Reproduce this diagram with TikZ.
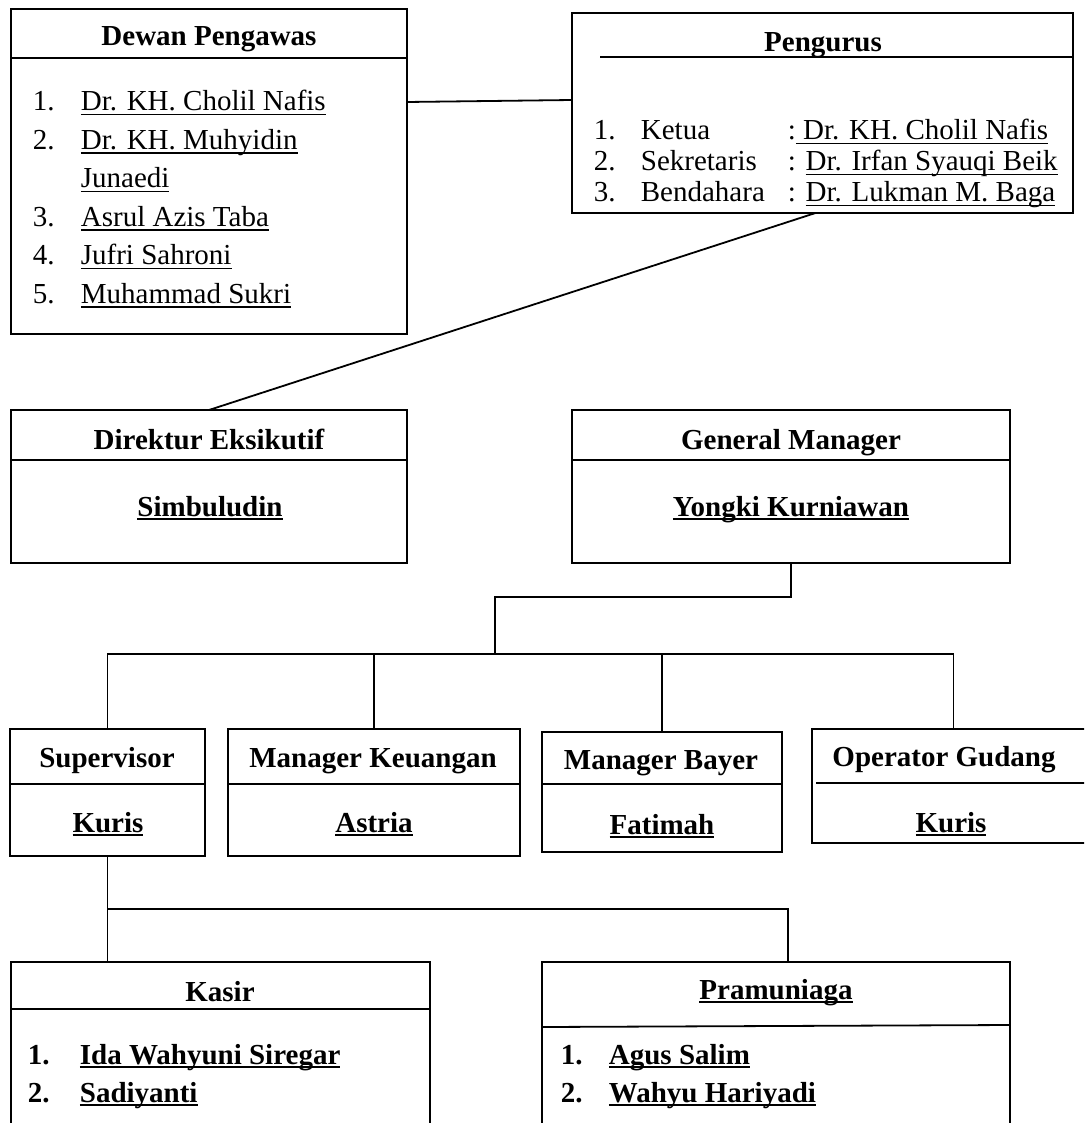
\documentclass[tikz,border=0pt]{standalone}
\usepackage{fontspec}
\setmainfont{Liberation Serif}
\usetikzlibrary{calc}
\newcommand{\txtsize}{\fontsize{14.5}{17}\selectfont}
\newsavebox{\ulsave}
\newcommand{\ulname}[2][0.8pt]{\sbox{\ulsave}{#2}\rlap{\rule[-2.2pt]{\wd\ulsave}{#1}}\usebox{\ulsave}}

\begin{document}
\begin{tikzpicture}[x=0.5pt,y=-0.5pt,line width=0.9pt,font=\txtsize,
box/.style={draw,rectangle,anchor=north west,inner sep=0pt,outer sep=0pt},
ttl/.style={anchor=base,inner sep=0pt,font=\txtsize\bfseries},
lst/.style={anchor=base west,inner sep=0pt}]
\useasboundingbox (0,0) rectangle (1084,1123);
\clip (0,0) rectangle (1084,1123);

% dewan pengawas
\node[box,minimum width=198pt,minimum height=162.5pt] (dp) at (11,9) {};
\draw (dp.west |- 0,58) -- (dp.east |- 0,58);
\node[ttl] (dpt) at (209,46) {Dewan Pengawas};
\node[lst] (dpl) at (32,111) {\fontsize{14.5}{19.25}\selectfont
\begin{tabular}[t]{@{}p{24pt}@{}l@{}}
1. & \ulname{Dr. KH. Cholil Nafis}\\
2. & \ulname{Dr. KH. Muhyidin}\\
   & \ulname{Junaedi}\\
3. & \ulname{Asrul Azis Taba}\\
4. & \ulname{Jufri Sahroni}\\
5. & \ulname{Muhammad Sukri}
\end{tabular}};

% pengurus
\node[box,minimum width=250.5pt,minimum height=100pt] (pg) at (572,13) {};
\draw (600,57) -- (pg.east |- 0,57);
\node[ttl] (pgt) at (823,52) {Pengurus};
\node[lst] (pgl) at (593,140) {\fontsize{14.5}{15.5}\selectfont
\begin{tabular}[t]{@{}p{23.5pt}@{}p{73.5pt}@{}l@{}}
1. & Ketua & :\ulname{ Dr. KH. Cholil Nafis}\\
2. & Sekretaris & : \ulname{Dr. Irfan Syauqi Beik}\\
3. & Bendahara & : \ulname{Dr. Lukman M. Baga}
\end{tabular}};

% direktur dan general manager
\node[box,minimum width=198pt,minimum height=76.5pt] (de) at (11,410) {};
\draw (de.west |- 0,460) -- (de.east |- 0,460);
\node[ttl] (det) at (209,449) {Direktur Eksikutif};
\node[ttl] (den) at (210,516) {\ulname[1.1pt]{Simbuludin}};

\node[box,minimum width=219pt,minimum height=76.5pt] (gm) at (572,410) {};
\draw (gm.west |- 0,460) -- (gm.east |- 0,460);
\node[ttl] (gmt) at (791,449) {General Manager};
\node[ttl] (gmn) at (791,516) {\ulname[1.1pt]{Yongki Kurniawan}};

% baris manager
\node[box,minimum width=97.5pt,minimum height=63.5pt] (sv) at (10,729) {};
\draw (sv.west |- 0,784) -- (sv.east |- 0,784);
\node[ttl] (svt) at (107,767) {Supervisor};
\node[ttl] (svn) at (108,832) {\ulname[1.1pt]{Kuris}};

\node[box,minimum width=146pt,minimum height=63.5pt] (mk) at (228,729) {};
\draw (mk.west |- 0,784) -- (mk.east |- 0,784);
\node[ttl] (mkt) at (373,767) {Manager Keuangan};
\node[ttl] (mkn) at (374,832) {\ulname[1.1pt]{Astria}};

\node[box,minimum width=120pt,minimum height=60pt] (mb) at (542,732) {};
\draw (mb.west |- 0,784) -- (mb.east |- 0,784);
\node[ttl] (mbt) at (661,769) {Manager Bayer};
\node[ttl] (mbn) at (662,834) {\ulname[1.1pt]{Fatimah}};

\node[box,minimum width=141.5pt,minimum height=57pt] (og) at (812,729) {};
\draw (816,783) -- (og.east |- 0,783);
\node[ttl] (ogt) at (944,766) {Operator Gudang};
\node[ttl] (ogn) at (951,832) {\ulname[1.1pt]{Kuris}};

% kasir dan pramuniaga
\node[box,minimum width=209.5pt,minimum height=86.5pt] (ks) at (11,962) {};
\draw (ks.west |- 0,1009) -- (ks.east |- 0,1009);
\node[ttl] (kst) at (220,1001) {Kasir};
\node[lst] (ksl) at (27,1064) {\fontsize{14.5}{19}\selectfont\bfseries
\begin{tabular}[t]{@{}p{26pt}@{}l@{}}
1. & \ulname[1.1pt]{Ida Wahyuni Siregar}\\
2. & \ulname[1.1pt]{Sadiyanti}
\end{tabular}};

\node[box,minimum width=234pt,minimum height=86.5pt] (pm) at (542,962) {};
\draw (pm.west |- 0,1027) -- (pm.east |- 0,1025);
\node[ttl] (pmt) at (776,999) {\ulname[1.1pt]{Pramuniaga}};
\node[lst] (pml) at (560,1064) {\fontsize{14.5}{19}\selectfont\bfseries
\begin{tabular}[t]{@{}p{24pt}@{}l@{}}
1. & \ulname[1.1pt]{Agus Salim}\\
2. & \ulname[1.1pt]{Wahyu Hariyadi}
\end{tabular}};

% garis penghubung
\coordinate (j1) at (495,597);
\coordinate (j2) at (495,654);
\coordinate (j3) at (110,909);
\draw ($(dp.north east)+(0,93)$) -- ($(pg.north west)+(0,87)$);
\draw ($(pg.south)+(-7,0)$) -- (de.north);
\draw (gm.south) |- (j1) -- (j2);
\draw (sv.north) |- (og.north |- j2) -- (og.north);
\draw (mk.north) -- (mk.north |- j2);
\draw (mb.north) -- (mb.north |- j2);
\draw (sv.south) -- (sv.south |- ks.north);
\draw (sv.south |- j3) -| ($(pm.north)+(12,0)$);
\end{tikzpicture}
\end{document}
